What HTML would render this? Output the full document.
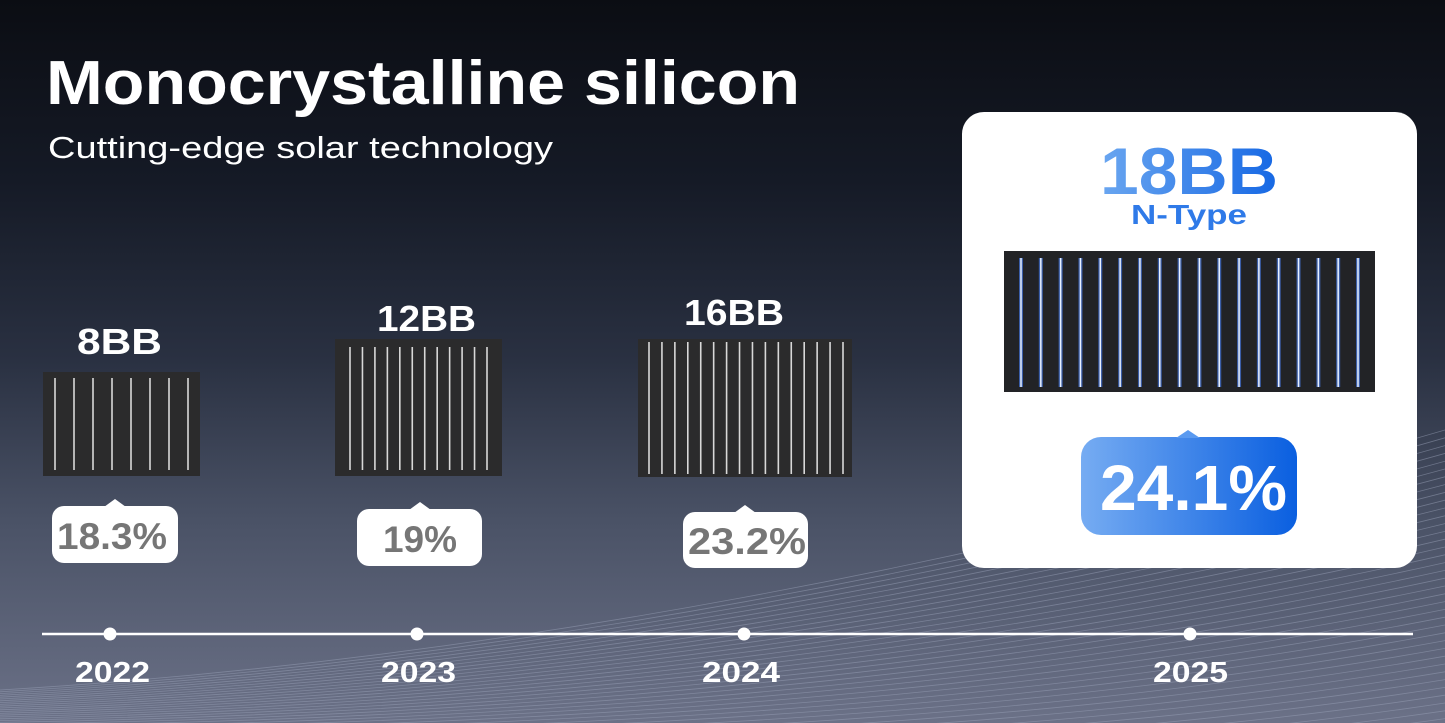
<!DOCTYPE html>
<html><head><meta charset="utf-8"><style>
html,body{margin:0;padding:0;width:1445px;height:723px;overflow:hidden}
body{background:linear-gradient(180deg,#0b0d13 0%,#151a26 25%,#2a3142 50%,#4a5266 72%,#6b7187 100%);font-family:"Liberation Sans",sans-serif}
svg{display:block}
</style></head><body>
<svg id="s" width="1445" height="723" viewBox="0 0 1445 723" xmlns="http://www.w3.org/2000/svg">
<defs>
<linearGradient id="bl" x1="0" x2="1"><stop offset="0" stop-color="#76acf2"/><stop offset="1" stop-color="#0a5fe0"/></linearGradient>
<linearGradient id="bt" x1="0" x2="1"><stop offset="0" stop-color="#6aa6f0"/><stop offset="1" stop-color="#1668e4"/></linearGradient>
</defs>
<g id="waves" stroke="#9aa2b8" stroke-width="0.8" fill="none" opacity="0.5"></g>
<text x="46" y="104" fill="#fff" font-size="62" font-weight="bold" textLength="754" lengthAdjust="spacingAndGlyphs">Monocrystalline silicon</text>
<text x="48" y="158" fill="#fff" font-size="31" textLength="505" lengthAdjust="spacingAndGlyphs">Cutting-edge solar technology</text>
<text x="77" y="354" fill="#fff" font-size="36" font-weight="bold" textLength="85" lengthAdjust="spacingAndGlyphs">8BB</text>
<text x="377" y="331" fill="#fff" font-size="36" font-weight="bold" textLength="99" lengthAdjust="spacingAndGlyphs">12BB</text>
<text x="684" y="325" fill="#fff" font-size="36" font-weight="bold" textLength="100" lengthAdjust="spacingAndGlyphs">16BB</text>
<rect x="43" y="372" width="157" height="104" fill="#2b2b2c"/>
<rect x="335" y="339" width="167" height="137" fill="#2b2b2c"/>
<rect x="638" y="339" width="214" height="138" fill="#2b2b2c"/>
<g id="gl" stroke="#d8d8d8" stroke-width="1.6"></g>
<g fill="#fff">
<rect x="52" y="506" width="126" height="57" rx="12"/><path d="M104 507 L115 499 L126 507Z"/>
<rect x="357" y="509" width="125" height="57" rx="12"/><path d="M409 510 L420 502 L431 510Z"/>
<rect x="683" y="512" width="125" height="56" rx="12"/><path d="M734 513 L745 505 L756 513Z"/>
</g>
<g fill="#767676" font-size="37" font-weight="bold" lengthAdjust="spacingAndGlyphs">
<text x="57" y="549" textLength="110" lengthAdjust="spacingAndGlyphs">18.3%</text><text x="383" y="552" textLength="74" lengthAdjust="spacingAndGlyphs">19%</text><text x="688" y="554" textLength="118" lengthAdjust="spacingAndGlyphs">23.2%</text>
</g>
<rect x="962" y="112" width="455" height="456" rx="22" fill="#fff"/>
<text x="1100" y="194" fill="url(#bt)" font-size="66" font-weight="bold" textLength="178" lengthAdjust="spacingAndGlyphs">18BB</text>
<text x="1131" y="224" fill="#2f7ae8" font-size="28" font-weight="bold" textLength="116" lengthAdjust="spacingAndGlyphs">N-Type</text>
<rect x="1004" y="251" width="371" height="141" fill="#222326"/>
<g id="bll"></g>
<rect x="1081" y="437" width="216" height="98" rx="20" fill="url(#bl)"/>
<path d="M1176 438 L1188 430 L1200 438Z" fill="#5a9af0"/>
<text x="1100" y="510" fill="#fff" font-size="64" font-weight="bold" textLength="187" lengthAdjust="spacingAndGlyphs">24.1%</text>
<line x1="42" y1="634" x2="1413" y2="634" stroke="#fff" stroke-width="2.5"/>
<g fill="#fff"><circle cx="110" cy="634" r="6.5"/><circle cx="417" cy="634" r="6.5"/><circle cx="744" cy="634" r="6.5"/><circle cx="1190" cy="634" r="6.5"/></g>
<g fill="#fff" font-size="29" font-weight="bold">
<text x="75" y="682" textLength="75" lengthAdjust="spacingAndGlyphs">2022</text><text x="381" y="682" textLength="75" lengthAdjust="spacingAndGlyphs">2023</text><text x="702" y="682" textLength="78" lengthAdjust="spacingAndGlyphs">2024</text><text x="1153" y="682" textLength="75" lengthAdjust="spacingAndGlyphs">2025</text>
</g>
</svg>
<script>
var NS="http://www.w3.org/2000/svg";
function L(g,x1,y1,x2,y2,attrs){var l=document.createElementNS(NS,"line");l.setAttribute("x1",x1);l.setAttribute("y1",y1);l.setAttribute("x2",x2);l.setAttribute("y2",y2);for(var k in attrs)l.setAttribute(k,attrs[k]);g.appendChild(l);}
var gl=document.getElementById("gl");
function bars(x0,x1,n,y0,y1){for(var i=0;i<n;i++){var x=x0+(x1-x0)*i/(n-1);L(gl,x,y0,x,y1,{});}}
bars(55,188,8,378,470);bars(350,487,12,347,470);bars(649,843,16,342,474);
var b=document.getElementById("bll");
for(var i=0;i<18;i++){var x=1021+(1358-1021)*i/17;L(b,x,258,x,387,{stroke:"#4d86ff","stroke-width":"4",opacity:"0.6"});L(b,x,258,x,387,{stroke:"#e8f0ff","stroke-width":"1.5"});}
var w=document.getElementById("waves");
for(var i=0;i<40;i++){var p=document.createElementNS(NS,"path");var o=i*6;p.setAttribute("d","M0 "+(690+o*0.3)+" C 500 "+(660+o*0.5)+", 1000 "+(560+o)+", 1445 "+(430+o*1.3));w.appendChild(p);}
</script>
</body></html>
